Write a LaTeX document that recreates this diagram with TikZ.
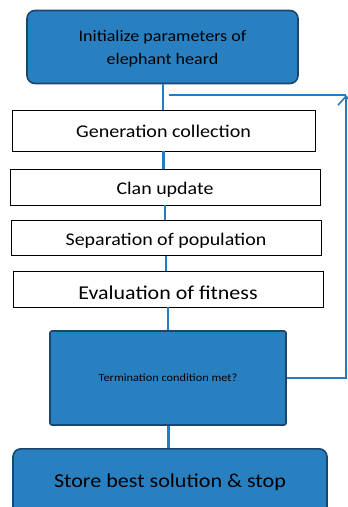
\documentclass[tikz,border=0pt]{standalone}
\usepackage{fontspec}
\setmainfont[FakeStretch=1.12]{Carlito}
\usetikzlibrary{arrows.meta}
\definecolor{boxblue}{RGB}{41,128,193}
\definecolor{boxedge}{RGB}{25,70,112}
\definecolor{linkblue}{RGB}{35,125,195}
\newcommand{\lowr}[2]{\raisebox{-#1}[\height][\depth]{#2}}
\tikzset{
  bluebox/.style={draw=boxedge, line width=1.6pt, fill=boxblue, rounded corners=8pt, align=center, inner sep=0pt},
  whitebox/.style={draw=black, line width=0.9pt, fill=white, align=center, inner sep=0pt},
  link/.style={draw=linkblue, line width=2pt},
  thicklink/.style={draw=linkblue, line width=3pt},
  fb/.style={draw=linkblue, line width=1.6pt}
}
\begin{document}
\begin{tikzpicture}[x=1pt,y=-1pt]
\useasboundingbox (0,0) rectangle (348,507);
\begin{scope}
\clip (0,0) rectangle (348,507);
\node[bluebox, minimum width=271pt, minimum height=73pt, font=\fontsize{16.1}{23}\selectfont] (init) at (162.5,47) {\lowr{2pt}{Initialize parameters of}\\\lowr{2pt}{elephant heard}};
\node[whitebox, minimum width=303pt, minimum height=41pt, font=\fontsize{17.9}{20}\selectfont] (gen) at (163.5,130.5) {\lowr{1pt}{Generation collection}};
\node[whitebox, minimum width=310pt, minimum height=36pt, font=\fontsize{17.8}{20}\selectfont] (clan) at (165,187) {\lowr{3pt}{Clan update}};
\node[whitebox, minimum width=310pt, minimum height=35pt, font=\fontsize{17.8}{20}\selectfont] (sep) at (166,238) {\lowr{2.5pt}{Separation of population}};
\node[whitebox, minimum width=310pt, minimum height=36pt, font=\fontsize{19.6}{22}\selectfont] (eval) at (168,289) {\lowr{3.5pt}{Evaluation of fitness}};
\node[bluebox, rounded corners=2pt, minimum width=236pt, minimum height=94pt, font=\fontsize{11}{13}\selectfont] (term) at (168,378) {Termination condition met?};
\node[bluebox, minimum width=314pt, minimum height=70pt, anchor=north] (store) at (170,448) {};
\node[font=\fontsize{19.7}{24}\selectfont] (storetext) at (170,482) {Store best solution \& stop};
\draw[link] (init.south) -- (init.south |- gen.north);
\draw[thicklink] (gen.south) -- (gen.south |- clan.north);
\draw[link] (clan.south) -- (clan.south |- sep.north);
\draw[link] (sep.south) -- (sep.south |- eval.north);
\draw[link] (eval.south) -- (eval.south |- term.north);
\draw[thicklink] (term.south) -- (term.south |- store.north);
\coordinate (fbcorner) at (346,95);
\coordinate (fbend) at (169,95);
\draw[fb, -{Straight Barb[length=9pt, width=16pt, line width=1.6pt]}] (term.east) -| (fbcorner);
\draw[fb] (fbcorner) -- (fbend);
\end{scope}
\end{tikzpicture}
\end{document}
